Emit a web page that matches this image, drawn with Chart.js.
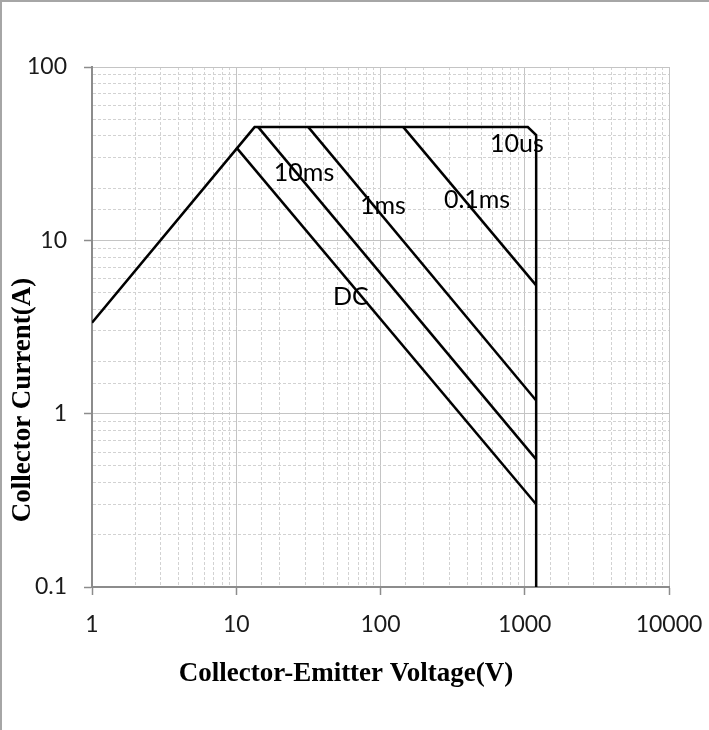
<!DOCTYPE html>
<html>
<head>
<meta charset="utf-8">
<title>Safe Operating Area</title>
<script src="https://cdn.jsdelivr.net/npm/chart.js@4/dist/chart.umd.min.js"></script>
<style>
  html, body { margin: 0; padding: 0; background: #fff; overflow: hidden; }
  #soaChart { display: block; }
</style>
</head>
<body>
<canvas id="soaChart" width="709" height="730"></canvas>
<script>
// axis decades
const xTicks = [1, 10, 100, 1000, 10000];
const yTicks = [0.1, 1, 10, 100];

// SOA boundary: rising limit, current limit, 10us corner, voltage limit
const outlineV = [1, 13.4, 1050, 1200, 1200];
const outlineI = [3.35, 45, 45, 40.5, 0.1];

// pulse-width limits (V, A)
const dcV = [10, 1200];
const dcI = [34.4, 0.3];
const ms10V = [14.2, 1200];
const ms10I = [45, 0.545];
const ms1V = [31.6, 1200];
const ms1I = [45, 1.19];
const ms01V = [144, 1200];
const ms01I = [45, 5.5];

function toPoints(xs, ys) {
  return xs.map((x, i) => ({ x: x, y: ys[i] }));
}

function isDecade(v) {
  const l = Math.log10(v);
  return Math.abs(l - Math.round(l)) < 1e-9;
}

// curve names, anchored at (V, A)
const curveLabels = [
  { text: '10us', x: 883, y: 36.0 },
  { text: '10ms', x: 29.5, y: 24.5 },
  { text: '1ms', x: 104, y: 15.8 },
  { text: '0.1ms', x: 467, y: 17.1 },
  { text: 'DC', x: 62.4, y: 4.73 }
];

const labelPlugin = {
  id: 'soaLabels',
  beforeDraw(chart) {
    // outer frame (top and left edges)
    const ctx = chart.ctx;
    ctx.save();
    ctx.strokeStyle = '#a6a6a6';
    ctx.lineWidth = 2;
    ctx.beginPath();
    ctx.moveTo(1, chart.height);
    ctx.lineTo(1, 1);
    ctx.lineTo(chart.width, 1);
    ctx.stroke();
    ctx.restore();
  },
  afterDatasetsDraw(chart) {
    const ctx = chart.ctx;
    const xs = chart.scales.x, ys = chart.scales.y;
    ctx.save();
    ctx.fillStyle = '#000';
    ctx.font = '25px Lato';
    ctx.textAlign = 'center';
    ctx.textBaseline = 'middle';
    curveLabels.forEach(l => {
      ctx.fillText(l.text, xs.getPixelForValue(l.x), ys.getPixelForValue(l.y));
    });

    // axis titles
    ctx.font = 'bold 27px "Liberation Serif"';
    ctx.textBaseline = 'alphabetic';
    ctx.fillText('Collector-Emitter Voltage(V)', 346, 681);
    ctx.translate(30, 400);
    ctx.rotate(-Math.PI / 2);
    ctx.fillText('Collector Current(A)', 0, 0);
    ctx.restore();
  }
};

const gridColor = c => (c.tick && isDecade(c.tick.value)) ? '#c4c4c4' : '#d2d2d2';
const gridDash = c => (c.tick && !isDecade(c.tick.value)) ? [3, 2] : [];
const tickColor = c => (c.tick && isDecade(c.tick.value)) ? '#8c8c8c' : 'transparent';

function lineSet(xs, ys) {
  return {
    data: toPoints(xs, ys),
    showLine: true,
    borderColor: '#000',
    borderWidth: 2.5,
    pointRadius: 0,
    tension: 0,
    fill: false
  };
}

new Chart(document.getElementById('soaChart'), {
  type: 'scatter',
  data: {
    datasets: [
      lineSet(outlineV, outlineI),
      lineSet(dcV, dcI),
      lineSet(ms10V, ms10I),
      lineSet(ms1V, ms1I),
      lineSet(ms01V, ms01I)
    ]
  },
  options: {
    responsive: false,
    animation: false,
    layout: { padding: { left: 0, top: 67, right: 40, bottom: 0 } },
    plugins: {
      legend: { display: false },
      tooltip: { enabled: false }
    },
    scales: {
      x: {
        type: 'logarithmic',
        min: xTicks[0],
        max: xTicks[xTicks.length - 1],
        afterFit: s => { s.height = 143; s.paddingLeft = 0; s.paddingRight = 0; },
        ticks: {
          autoSkip: false,
          maxRotation: 0,
          padding: 16,
          color: '#1a1a1a',
          font: { family: 'Lato', size: 23 },
          callback: v => isDecade(v) ? String(Math.round(v)) : ''
        },
        grid: { color: gridColor, lineWidth: 1, tickLength: 8, tickColor: tickColor, tickWidth: 1.5 },
        border: { color: '#8c8c8c', width: 2, dash: gridDash }
      },
      y: {
        type: 'logarithmic',
        min: yTicks[0],
        max: yTicks[yTicks.length - 1],
        afterFit: s => { s.width = 92; s.paddingTop = 0; s.paddingBottom = 0; },
        ticks: {
          autoSkip: false,
          padding: 17,
          color: '#1a1a1a',
          font: { family: 'Lato', size: 23 },
          callback: v => isDecade(v) ? (v < 1 ? v.toFixed(1) : String(Math.round(v))) : ''
        },
        grid: { color: gridColor, lineWidth: 1, tickLength: 8, tickColor: tickColor, tickWidth: 1.5 },
        border: { color: '#8c8c8c', width: 2, dash: gridDash }
      }
    }
  },
  plugins: [labelPlugin]
});
</script>
</body>
</html>
